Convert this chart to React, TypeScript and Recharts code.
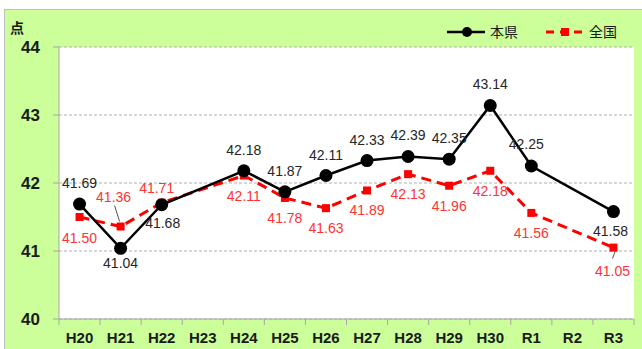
import React from "react";
import { LineChart, Line, XAxis, YAxis, CartesianGrid, LabelList } from "recharts";

const years = ["H20", "H21", "H22", "H23", "H24", "H25", "H26", "H27", "H28", "H29", "H30", "R1", "R2", "R3"];
const prefScores: (number | null)[] = [41.69, 41.04, 41.68, null, 42.18, 41.87, 42.11, 42.33, 42.39, 42.35, 43.14, 42.25, null, 41.58];
const nationalScores: (number | null)[] = [41.5, 41.36, 41.71, null, 42.11, 41.78, 41.63, 41.89, 42.13, 41.96, 42.18, 41.56, null, 41.05];
const yTicks = [40, 41, 42, 43, 44];

const data = years.map((year, i) => ({ year, pref: prefScores[i], national: nationalScores[i] }));

const W = 642;
const H = 349;
const MARGIN = { top: 47, right: 8, left: 9, bottom: 0 };
const Y_AXIS_W = 50;
const STEP = (W - MARGIN.left - MARGIN.right - Y_AXIS_W) / years.length;

const GREEN = "#ccff99";
const AXIS_GRAY = "#a6a6a6";
const BLACK = "#000";
const RED = "#ff0000";
const LABEL_FONT = "'Liberation Sans', Arial, sans-serif";
const JP_FONT = "'Noto Sans CJK JP', sans-serif";

// label placement per point: dx, baseline dy, optional leader line
type Place = { dx: number; dy: number; leader?: [number, number, number, number] };
const above: Place = { dx: 0, dy: -16 };
const below: Place = { dx: 0, dy: 25 };

const prefPlace: Place[] = [
  above, { dx: 0, dy: 20 }, { dx: 1, dy: 23 }, above, above, above, above, above,
  above, above, above, { dx: -5, dy: -17 }, above, { dx: -3, dy: 24 },
];
const nationalPlace: Place[] = [
  { dx: 0, dy: 26 }, { dx: -7, dy: -25, leader: [-6, -21, -1, -5] }, { dx: -5, dy: -10 }, below,
  below, below, below, below, below, below, below, below, below,
  { dx: -1, dy: 28, leader: [-1, 11, 2, 3] },
];

const makeLabel = (places: Place[], color: string) => (props: any) => {
  const { x, y, value, index } = props;
  if (value == null) return null;
  const p = places[index];
  return (
    <g>
      {p.leader && (
        <line
          x1={x + p.leader[0]}
          y1={y + p.leader[1]}
          x2={x + p.leader[2]}
          y2={y + p.leader[3]}
          stroke="#555"
          strokeWidth={1}
        />
      )}
      <text x={x + p.dx} y={y + p.dy} textAnchor="middle" fontFamily={LABEL_FONT} fontSize={14} fill={color}>
        {Number(value).toFixed(2)}
      </text>
    </g>
  );
};

const SquareDot = (props: any) => {
  const { cx, cy, value } = props;
  if (value == null || cx == null) return null;
  return <rect x={cx - 4} y={cy - 4} width={8} height={8} fill={RED} />;
};

// category labels centred, tick marks on the band edges
const YearTick = (props: any) => {
  const { x, y, payload, index } = props;
  const left = x - STEP / 2;
  return (
    <g>
      <line x1={left} y1={y - 6} x2={left} y2={y} stroke={AXIS_GRAY} />
      {index === years.length - 1 && (
        <line x1={x + STEP / 2} y1={y - 6} x2={x + STEP / 2} y2={y} stroke={AXIS_GRAY} />
      )}
      <text x={x} y={y + 18} textAnchor="middle" fontFamily={LABEL_FONT} fontWeight="bold" fontSize={15} fill="#1a1a1a">
        {payload.value}
      </text>
    </g>
  );
};

const LegendBox = () => (
  <svg width={200} height={24} style={{ position: "absolute", left: 447, top: 20 }}>
    <line x1={0} y1={12} x2={38} y2={12} stroke={BLACK} strokeWidth={2.5} />
    <circle cx={20} cy={12} r={5} fill={BLACK} />
    <text x={43} y={17} fontFamily={JP_FONT} fontSize={14} fill="#1a1a1a">本県</text>
    <line x1={99} y1={12} x2={137} y2={12} stroke={RED} strokeWidth={3} strokeDasharray="8 6" />
    <rect x={114} y={8} width={8} height={8} fill={RED} />
    <text x={142} y={17} fontFamily={JP_FONT} fontSize={14} fill="#1a1a1a">全国</text>
  </svg>
);

export default function App() {
  return (
    <div style={{ position: "absolute", left: 0, top: 0, width: W, height: H, overflow: "hidden", background: "#fff" }}>
      <div
        style={{
          position: "absolute",
          left: 4,
          top: 9,
          width: W + 20,
          height: H + 20,
          background: GREEN,
          borderTop: "1px solid #bfbfbf",
          borderLeft: "1px solid #bfbfbf",
        }}
      />
      <div
        style={{
          position: "absolute",
          left: 10,
          top: 17,
          fontFamily: JP_FONT,
          fontWeight: "bold",
          fontSize: 14,
          color: "#1a1a1a",
        }}
      >
        点
      </div>
      <LegendBox />
      <div style={{ position: "absolute", left: 0, top: 0 }}>
        <LineChart width={W} height={H} data={data} margin={MARGIN}>
          <CartesianGrid horizontal vertical={false} fill="#fff" stroke="#b0b0b0" strokeDasharray="3 2" />
          <XAxis
            dataKey="year"
            height={30}
            padding={{ left: STEP / 2, right: STEP / 2 }}
            axisLine={{ stroke: AXIS_GRAY }}
            tickLine={false}
            tickSize={6}
            tickMargin={0}
            interval={0}
            tick={<YearTick />}
          />
          <YAxis
            domain={[40, 44]}
            ticks={yTicks}
            width={Y_AXIS_W}
            axisLine={{ stroke: AXIS_GRAY }}
            tickLine={{ stroke: AXIS_GRAY }}
            tickSize={6}
            tickMargin={13}
            tick={{ fontFamily: LABEL_FONT, fontWeight: "bold", fontSize: 17, fill: "#1a1a1a" }}
          />
          <Line
            dataKey="national"
            name="全国"
            stroke={RED}
            strokeWidth={3}
            strokeDasharray="10 6"
            dot={<SquareDot />}
            activeDot={false}
            connectNulls
            isAnimationActive={false}
          >
            <LabelList dataKey="national" content={makeLabel(nationalPlace, "#ff3333")} />
          </Line>
          <Line
            dataKey="pref"
            name="本県"
            stroke={BLACK}
            strokeWidth={2.5}
            dot={{ r: 6.5, fill: BLACK, stroke: BLACK, strokeWidth: 0 }}
            activeDot={false}
            connectNulls
            isAnimationActive={false}
          >
            <LabelList dataKey="pref" content={makeLabel(prefPlace, "#262626")} />
          </Line>
        </LineChart>
      </div>
    </div>
  );
}
